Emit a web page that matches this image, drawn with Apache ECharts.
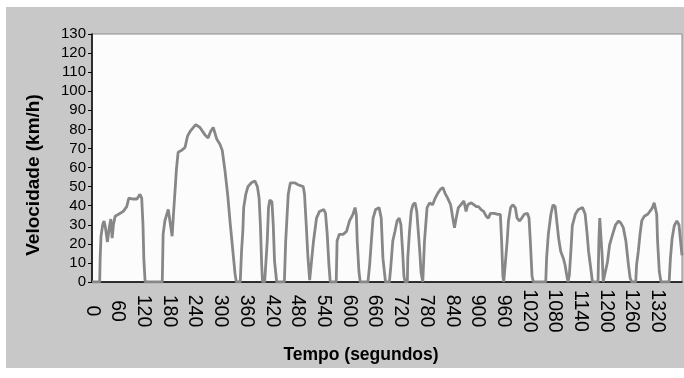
<!DOCTYPE html>
<html>
<head>
<meta charset="utf-8">
<script src="https://cdn.jsdelivr.net/npm/echarts@6/dist/echarts.min.js"></script>
<style>
  html, body { margin: 0; padding: 0; background: #fff; }
  #chart { width: 684px; height: 378px; }
</style>
</head>
<body>
<div id="chart"></div>
<script>
// tempo (s) e velocidade (km/h)
const tempo = [
  0, 18, 19, 21, 25, 28, 31, 36, 40, 44, 47, 50, 54, 62, 73, 81, 86, 96, 105, 112, 116, 119, 121, 124,
  164, 166, 170, 178, 182, 187, 190, 195, 197, 201, 209, 217, 223, 229, 242, 252, 264, 271, 277, 283,
  291, 299, 304, 310, 317, 322, 328, 334, 337,
  346, 349, 352, 354, 359, 364, 372, 380, 386, 390, 393, 396, 398,
  403, 409, 412, 415, 420, 423, 426, 431,
  449, 452, 458, 463, 473, 481, 493, 496, 500, 504, 508, 512,
  517, 524, 531, 541, 545, 549, 553, 556,
  570, 572, 577, 586, 594, 601, 609, 614, 617, 619, 623, 626,
  644, 648, 652, 656, 662, 670, 675, 679, 685,
  694, 697, 702, 707, 712, 717, 721, 725, 728, 731,
  736, 737, 741, 745, 749, 754, 758, 761, 765, 768, 772,
  775, 776, 782, 788, 795, 801, 807, 813, 819, 824, 830, 837, 842, 846, 850, 855, 861, 868, 873, 877,
  885, 891, 897, 902, 908, 914, 920, 925, 930, 939, 947, 953, 956, 959, 961,
  964, 969, 972, 977, 982, 988, 992, 998, 1003, 1009, 1016, 1020, 1023, 1027, 1030,
  1059, 1061, 1065, 1071, 1076, 1081, 1084, 1089, 1094, 1100, 1104, 1108, 1111,
  1114, 1118, 1121, 1128, 1135, 1145, 1151, 1155, 1159, 1165, 1168,
  1181, 1183, 1185, 1188, 1191, 1193,
  1197, 1203, 1208, 1215, 1222, 1229, 1234, 1240, 1246, 1252, 1256, 1260,
  1269, 1271, 1275, 1279, 1283, 1289, 1297, 1302, 1308, 1312, 1315, 1318, 1320, 1324, 1328,
  1347, 1350, 1354, 1359, 1365, 1370, 1373, 1376, 1377
];
const velocidade = [
  0, 0, 12, 24, 30, 32, 29, 21, 28, 33, 23, 30, 34.5, 35.5, 37, 39.5, 44, 43.5, 43.5, 46, 44, 30, 12, 0,
  0, 25, 32, 38, 37.5, 24, 35, 52, 59, 68, 69, 70.5, 76.5, 79, 82.5, 81, 77, 75.5, 79, 81,
  75, 72, 69, 59, 45, 32, 18, 4, 0,
  0, 16, 26.5, 39, 46, 50, 52, 53, 50, 44, 30, 9, 0,
  0, 21.5, 39, 43, 42, 30, 11, 0,
  0, 21, 46, 52, 52, 51, 50, 46, 30, 13, 1, 0,
  21.5, 33.5, 37, 38, 36, 25, 9, 0,
  0, 21.5, 25, 25, 26.5, 32, 35.5, 39, 35, 21.5, 5.5, 0,
  0, 9, 21.5, 33.5, 38, 39, 33.5, 12.5, 0,
  0, 7, 21.5, 26.5, 32, 33.5, 30, 16, 3, 0,
  0, 12.5, 26.5, 37, 40.5, 41.5, 37, 28, 16, 5, 0,
  0, 21.5, 39, 41.5, 40.5, 44, 46.5, 48.5, 49.5, 46.5, 44, 40.5, 33.5, 28.5, 33.5, 39, 40.5, 42.5, 37, 40.5,
  41.5, 40.5, 39.5, 39.5, 38, 37, 34.5, 33.5, 36, 36, 35.5, 35.5, 21.5, 3, 0,
  0, 21.5, 32, 39, 40.5, 39, 33.5, 32, 33.5, 35.5, 36, 33.5, 21.5, 3, 0,
  0, 12.5, 25, 35.5, 40.5, 39.5, 33.5, 23, 16, 12.5, 9, 3.5, 0,
  3.5, 17.5, 29.5, 35.5, 38, 39, 35.5, 26.5, 16, 5.5, 0,
  0, 21.5, 33.5, 32.5, 12.5, 0,
  0, 10.5, 19.5, 25, 30, 32, 31, 28.5, 21.5, 9, 2, 0,
  0, 9, 16, 25, 32, 34.5, 35.5, 37, 39, 41.5, 42.5, 35.5, 21.5, 5.5, 0,
  0, 12.5, 23, 29.5, 32, 30, 23, 16, 14
];
const yMax = 130;
const tMax = 1377;

const chart = echarts.init(document.getElementById('chart'));
chart.setOption({
  backgroundColor: '#ffffff',
  animation: false,
  graphic: [{
    type: 'rect',
    z: -10,
    shape: { x: 6, y: 7, width: 678, height: 361 },
    style: { fill: '#c8c8c8' }
  }],
  grid: {
    left: 92, top: 34, right: 2, bottom: 96,
    show: true,
    backgroundColor: '#fcfcfc',
    borderColor: '#8c8c8c',
    borderWidth: 1
  },
  xAxis: {
    type: 'value',
    min: 0,
    max: tMax,
    interval: 60,
    name: 'Tempo (segundos)',
    nameLocation: 'middle',
    nameGap: 64,
    nameTextStyle: {
      fontFamily: 'Liberation Sans',
      fontWeight: 'bold', fontSize: 17.5, color: '#000',
      padding: [0, 52, 0, 0]
    },
    axisLine: { lineStyle: { color: '#000', width: 1.5 } },
    axisTick: { show: false },
    splitLine: { show: false },
    axisLabel: {
      rotate: -90,
      align: 'center',
      margin: 29,
      fontFamily: 'Liberation Sans',
      fontSize: 19.5,
      color: '#000',
      showMaxLabel: false,
      formatter: v => (v % 60 === 0 ? String(v) : '')
    }
  },
  yAxis: {
    type: 'value',
    min: 0,
    max: yMax,
    interval: 10,
    name: 'Velocidade (km/h)',
    nameLocation: 'middle',
    nameGap: 49,
    nameTextStyle: {
      fontFamily: 'Liberation Sans',
      fontWeight: 'bold', fontSize: 19, color: '#000',
      padding: [0, 34, 0, 0]
    },
    axisLine: { show: true, lineStyle: { color: '#000', width: 1.5 } },
    axisTick: { show: true, length: 4, lineStyle: { color: '#000' } },
    splitLine: { show: false },
    axisLabel: {
      margin: 6,
      fontFamily: 'Liberation Sans',
      fontSize: 15,
      color: '#000'
    }
  },
  series: [{
    type: 'line',
    data: tempo.map((t, i) => [t, velocidade[i]]),
    showSymbol: false,
    lineStyle: { color: '#878787', width: 2.8 },
    clip: true
  }]
});
</script>
</body>
</html>
